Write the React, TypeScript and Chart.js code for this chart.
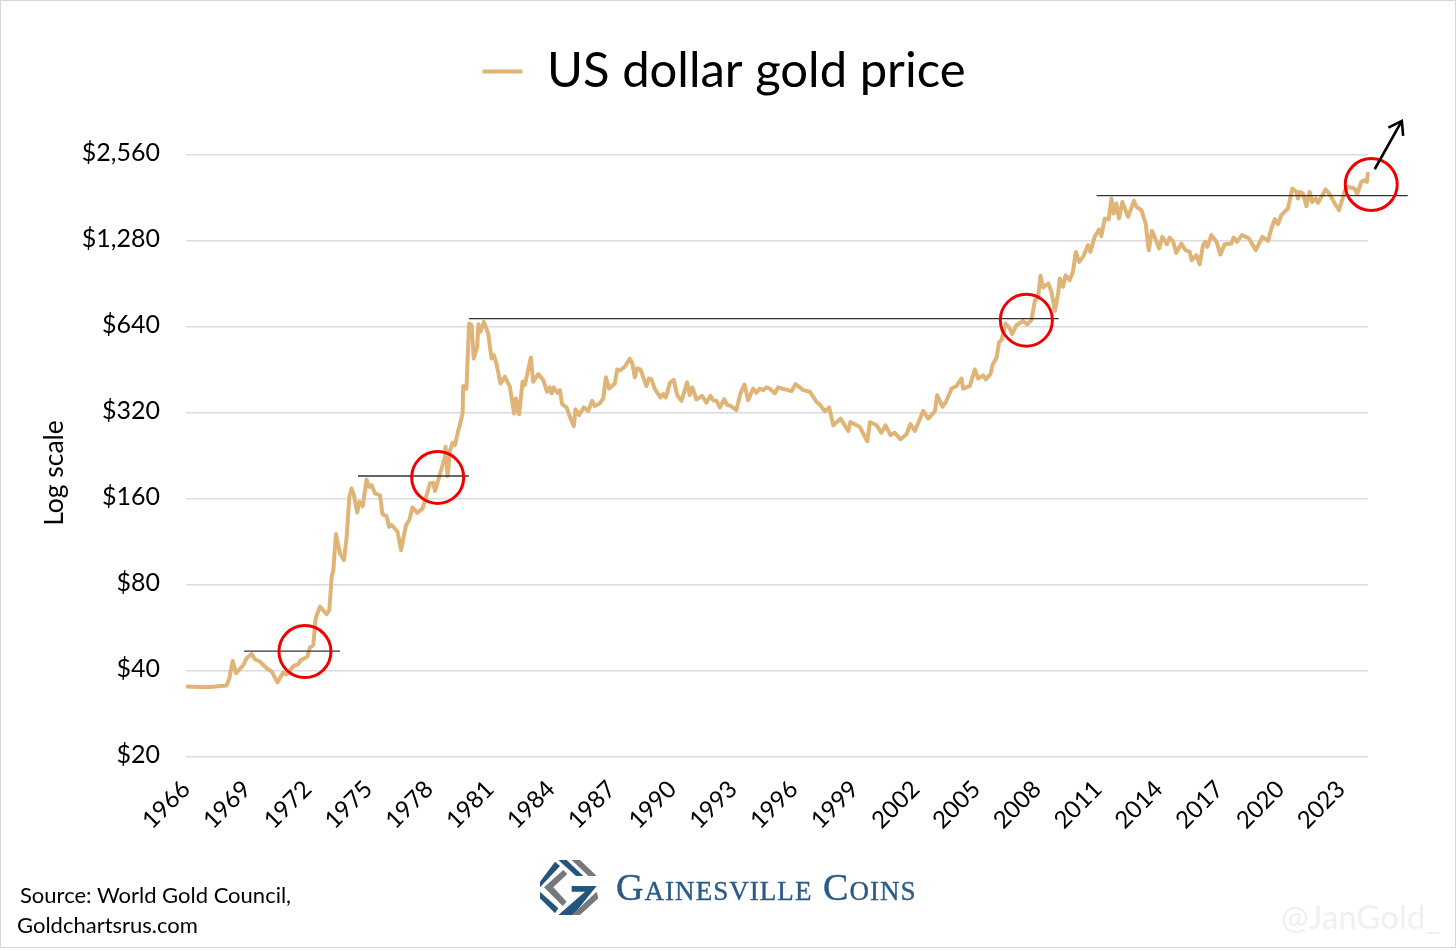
import { useEffect, useRef } from 'react'
import { Chart, registerables } from 'chart.js'

Chart.register(...registerables)

const seriesLabel = 'US dollar gold price'
const priceTicks = [20, 40, 80, 160, 320, 640, 1280, 2560]
const yearTicks = [1966, 1969, 1972, 1975, 1978, 1981, 1984, 1987, 1990, 1993, 1996, 1999, 2002, 2005, 2008, 2011, 2014, 2017, 2020, 2023]

// Decimal years
const goldYears = [
  1966.0, 1967.02, 1968.0, 1968.14, 1968.3, 1968.47, 1968.83, 1968.99, 1969.24, 1969.4, 1969.65, 1969.98,
  1970.23, 1970.51, 1970.8, 1970.97, 1971.3, 1971.54, 1971.66, 1971.99, 1972.12, 1972.28, 1972.4, 1972.61, 1972.94,
  1973.07, 1973.19, 1973.27, 1973.4, 1973.6, 1973.8, 1973.93, 1974.06, 1974.17, 1974.29, 1974.45, 1974.55, 1974.72, 1974.91,
  1975.03, 1975.16, 1975.33, 1975.57, 1975.7, 1975.9, 1976.02, 1976.15, 1976.44, 1976.61, 1976.86,
  1977.02, 1977.17, 1977.41, 1977.68, 1978.04, 1978.2, 1978.29, 1978.45, 1978.78, 1978.81, 1978.91,
  1979.03, 1979.16, 1979.27, 1979.44, 1979.51, 1979.65, 1979.68, 1979.84, 1979.97,
  1980.09, 1980.2, 1980.37, 1980.43, 1980.53, 1980.7, 1980.91, 1981.08, 1981.19, 1981.32, 1981.52, 1981.73, 1981.98,
  1982.19, 1982.28, 1982.44, 1982.61, 1982.72, 1983.02, 1983.13, 1983.38, 1983.63, 1983.82, 1983.95,
  1984.04, 1984.15, 1984.32, 1984.45, 1984.56, 1984.78, 1984.94, 1985.14, 1985.22, 1985.4, 1985.63, 1985.85,
  1986.04, 1986.17, 1986.42, 1986.59, 1986.72, 1986.88, 1987.16, 1987.28, 1987.44, 1987.65, 1987.9,
  1988.03, 1988.15, 1988.26, 1988.43, 1988.72, 1988.84, 1988.97, 1989.13, 1989.41, 1989.55, 1989.68, 1989.88,
  1990.07, 1990.24, 1990.45, 1990.73, 1990.86, 1990.99, 1991.19, 1991.47, 1991.68, 1991.88,
  1992.01, 1992.18, 1992.34, 1992.56, 1992.7, 1992.87, 1993.16, 1993.36, 1993.56, 1993.74, 1993.99,
  1994.15, 1994.32, 1994.48, 1994.64, 1994.81, 1995.06, 1995.22, 1995.88, 1996.08, 1996.46, 1996.79,
  1997.12, 1997.28, 1997.53, 1997.74, 1997.94, 1998.3, 1998.68, 1998.79, 1999.25, 1999.62, 1999.75,
  2000.08, 2000.32, 2000.52, 2000.77, 2000.98, 2001.26, 2001.56, 2001.75, 2001.97, 2002.38, 2002.63, 2002.96,
  2003.07, 2003.33, 2003.5, 2003.78, 2004.02, 2004.27, 2004.35, 2004.68, 2004.93, 2005.09, 2005.34, 2005.47, 2005.7, 2005.8,
  2006.0, 2006.13, 2006.25, 2006.44, 2006.65, 2006.77, 2006.98, 2007.31, 2007.51, 2007.72, 2007.89,
  2008.05, 2008.17, 2008.3, 2008.55, 2008.71, 2008.88, 2009.04, 2009.12, 2009.28, 2009.41, 2009.61, 2009.77, 2009.91,
  2010.07, 2010.27, 2010.51, 2010.63, 2010.84, 2011.06, 2011.17, 2011.34, 2011.53, 2011.67, 2011.78, 2011.91,
  2012.04, 2012.21, 2012.49, 2012.78, 2012.9, 2013.15, 2013.36, 2013.51, 2013.67, 2013.8,
  2014.02, 2014.18, 2014.41, 2014.54, 2014.71, 2014.87, 2015.12, 2015.32, 2015.53, 2015.63, 2015.86,
  2016.02, 2016.19, 2016.3, 2016.4, 2016.6, 2016.85, 2017.05, 2017.26, 2017.59, 2017.7, 2017.87,
  2018.11, 2018.46, 2018.79, 2019.12, 2019.4, 2019.56, 2019.73, 2019.89, 2020.05, 2020.38, 2020.6, 2020.79, 2020.88, 2020.96,
  2021.12, 2021.29, 2021.45, 2021.58, 2021.75, 2021.86, 2022.24, 2022.44, 2022.69, 2022.9,
  2023.1, 2023.18, 2023.34, 2023.67, 2023.8, 2024.0, 2024.17, 2024.28, 2024.33,
]

const goldPrices = [
  35.3, 35.1, 35.6, 37.7, 43.4, 39.3, 42.0, 44.3, 45.9, 44.0, 43.1, 40.9,
  39.8, 36.5, 39.5, 38.9, 41.6, 42.3, 43.6, 44.9, 48.4, 49.3, 61.2, 67.2, 63.2,
  65.4, 85.5, 90.3, 120.7, 103.3, 97.8, 118, 163, 174.4, 165, 143.7, 156.5, 151, 187.5,
  176.6, 179, 167.5, 165, 141.5, 139.5, 128, 129.8, 122.9, 106, 129.8,
  135, 149.6, 143.2, 148.5, 181.6, 182.4, 170.7, 186.6, 225, 243.9, 192.6,
  237.5, 251.9, 247, 279, 290, 320, 398, 390, 659,
  650, 497, 546, 655, 616, 668, 608, 497, 511, 477, 406, 429, 396,
  319, 360, 317, 412, 401, 501, 412, 438, 418, 380, 394,
  375, 394, 377, 385, 344, 335, 311, 288, 330, 315, 335, 326,
  353, 339, 346, 360, 427, 390, 406, 455, 452, 465, 496,
  477, 427, 459, 455, 398, 423, 420, 390, 363, 373, 363, 409,
  418, 370, 353, 410, 370, 394, 357, 368, 348, 368,
  355, 353, 335, 358, 342, 339, 328, 375, 403, 355, 390,
  377, 390, 385, 394, 390, 375, 394, 382, 404, 385, 380,
  350, 342, 325, 335, 290, 306, 277, 298, 286, 255, 298,
  290, 273, 290, 268, 273, 259, 270, 293, 277, 326, 306, 325,
  370, 337, 350, 390, 398, 423, 390, 398, 455, 423, 434, 420, 438, 471,
  501, 568, 577, 659, 633, 605, 650, 673, 654, 677, 791,
  817, 968, 881, 910, 851, 730, 840, 948, 886, 973, 935, 1000, 1174,
  1083, 1128, 1239, 1174, 1325, 1407, 1332, 1537, 1525, 1806, 1600, 1734,
  1537, 1756, 1557, 1772, 1687, 1643, 1476, 1190, 1391, 1325,
  1207, 1325, 1249, 1318, 1275, 1165, 1256, 1190, 1174, 1098, 1143,
  1061, 1239, 1275, 1223, 1344, 1275, 1149, 1249, 1256, 1318, 1275,
  1344, 1308, 1190, 1325, 1283, 1418, 1529, 1468, 1578, 1666, 1958, 1905, 1806, 1905,
  1880, 1697, 1905, 1756, 1806, 1742, 1942, 1870, 1734, 1643,
  1829, 1920, 1983, 1958, 1870, 2065, 2093, 2065, 2237,
]

// Prior highs: from year, to year, price
const highStart = [1968.86, 1974.49, 1979.96, 2010.94]
const highEnd = [1973.6, 1979.96, 2009.07, 2026.29]
const highPrice = [47, 192.7, 685, 1847]

// Breakouts circled in red
const circleYears = [1971.87, 1978.42, 2007.47, 2024.49]
const circlePrices = [46.8, 190.6, 677, 2022]

const arrowFrom = [2024.66, 2286]
const arrowTo = [2026.0, 3374]

const FONT = 'Lato, sans-serif'

const annotations = {
  id: 'annotations',
  afterDatasetsDraw(chart: any) {
    const { ctx, scales } = chart
    const { x, y } = scales
    ctx.save()

    ctx.strokeStyle = '#333333'
    ctx.lineWidth = 1.3
    highPrice.forEach((p, i) => {
      ctx.beginPath()
      ctx.moveTo(x.getPixelForValue(highStart[i]), y.getPixelForValue(p))
      ctx.lineTo(x.getPixelForValue(highEnd[i]), y.getPixelForValue(p))
      ctx.stroke()
    })

    ctx.strokeStyle = '#f00000'
    ctx.lineWidth = 3
    circleYears.forEach((yr, i) => {
      ctx.beginPath()
      ctx.arc(x.getPixelForValue(yr), y.getPixelForValue(circlePrices[i]), 26, 0, Math.PI * 2)
      ctx.stroke()
    })

    const ax = x.getPixelForValue(arrowFrom[0])
    const ay = y.getPixelForValue(arrowFrom[1])
    const bx = x.getPixelForValue(arrowTo[0])
    const by = y.getPixelForValue(arrowTo[1])
    const angle = Math.atan2(by - ay, bx - ax)
    ctx.strokeStyle = '#000000'
    ctx.lineWidth = 2.6
    ctx.beginPath()
    ctx.moveTo(ax, ay)
    ctx.lineTo(bx, by)
    ctx.moveTo(bx - 15 * Math.cos(angle - 0.6), by - 15 * Math.sin(angle - 0.6))
    ctx.lineTo(bx, by)
    ctx.lineTo(bx - 15 * Math.cos(angle + 0.6), by - 15 * Math.sin(angle + 0.6))
    ctx.stroke()

    ctx.translate(54, 473)
    ctx.rotate(-Math.PI / 2)
    ctx.fillStyle = '#000000'
    ctx.font = `26.5px ${FONT}`
    ctx.textAlign = 'center'
    ctx.textBaseline = 'middle'
    ctx.fillText('Log scale', 0, 0)
    ctx.restore()
  },
}

export default function App() {
  const canvasRef = useRef<HTMLCanvasElement>(null)

  useEffect(() => {
    if (!canvasRef.current) return

    const chart = new Chart(canvasRef.current, {
      type: 'line',
      data: {
        datasets: [
          {
            label: seriesLabel,
            data: goldYears.map((yr, i) => ({ x: yr, y: goldPrices[i] })),
            borderColor: '#e0b476',
            backgroundColor: '#e0b476',
            borderWidth: 4,
            borderJoinStyle: 'round',
            pointRadius: 0,
            tension: 0,
            clip: false,
          },
        ],
      },
      options: {
        animation: false,
        responsive: false,
        layout: { padding: { left: 80, right: 88, top: -15, bottom: 0 } },
        plugins: {
          tooltip: { enabled: false },
          legend: {
            position: 'top',
            labels: {
              boxWidth: 40,
              boxHeight: 4,
              padding: 62,
              color: '#000000',
              font: { family: FONT, size: 49 },
              generateLabels: (c: any) =>
                Chart.defaults.plugins.legend.labels.generateLabels(c).map((l: any) => ({ ...l, lineWidth: 0 })),
            },
          },
          // empty box, only keeps the gap between legend and plot
          subtitle: {
            display: true,
            text: '',
            weight: 500,
            font: { size: 1 },
            padding: { top: 0, bottom: 48 },
          } as any,
        },
        scales: {
          x: {
            type: 'linear',
            min: 1966,
            max: 2024.33,
            grid: { display: false },
            border: { display: false },
            afterBuildTicks: (axis: any) => {
              axis.ticks = yearTicks.map((value) => ({ value }))
            },
            afterFit: (axis: any) => {
              axis.height = 194
            },
            ticks: {
              autoSkip: false,
              maxRotation: 45,
              minRotation: 45,
              padding: 10,
              color: '#000000',
              font: { family: FONT, size: 24 },
              callback: (val: any) => String(val),
            },
          },
          y: {
            type: 'logarithmic',
            min: 20,
            max: 2560,
            grid: { color: '#dbdbdb', lineWidth: 1.5, drawTicks: false },
            border: { display: false },
            afterBuildTicks: (axis: any) => {
              axis.ticks = priceTicks.map((value) => ({ value }))
            },
            afterFit: (axis: any) => {
              axis.width = 106
            },
            ticks: {
              autoSkip: false,
              padding: 26,
              labelOffset: -2,
              color: '#000000',
              font: { family: FONT, size: 25 },
              callback: (val: any) => `$${Number(val).toLocaleString('en-US')}`,
            },
          },
        },
      },
      plugins: [annotations],
    })

    return () => {
      chart.destroy()
    }
  }, [])

  return (
    <div style={{ position: 'absolute', left: 0, top: 0, width: 1456, height: 951, background: '#fff', overflow: 'hidden' }}>
      <div style={{ position: 'absolute', left: 0, top: 0, width: 1456, height: 948, boxSizing: 'border-box', border: '1.5px solid #d6d6d6' }} />
      <canvas ref={canvasRef} width={1456} height={951} style={{ position: 'absolute', left: 0, top: 0 }} />
      <span style={{ position: 'absolute', left: 20, top: 881, font: `22px ${FONT}`, color: '#000' }}>Source: World Gold Council,</span>
      <span style={{ position: 'absolute', left: 17, top: 911, font: `22px ${FONT}`, color: '#000' }}>Goldchartsrus.com</span>
      <svg style={{ position: 'absolute', left: 530, top: 850 }} width={100} height={75} viewBox="0 0 300 225">
        <polygon fill="#23557f" points="30,95 75,35 90,48 30,112" />
        <polygon fill="#23557f" points="85,30 110,30 160,78 138,78" />
        <polygon fill="#77787b" points="125,30 150,30 200,78 175,78" />
        <polygon fill="#77787b" points="100,60 112,72 70,112 110,155 98,168 42,112" />
        <polygon fill="#23557f" points="30,125 85,175 75,190 30,145" />
        <polygon fill="#23557f" points="125,108 200,108 130,195 85,195 165,125 125,125" />
        <polygon fill="#77787b" points="200,125 205,145 150,195 125,195" />
      </svg>
      <span style={{ position: 'absolute', left: 616, top: 865, font: `38px "Liberation Serif", serif`, fontVariant: 'small-caps', letterSpacing: 1.05, color: '#2a5a88', WebkitTextStroke: '0.4px #2a5a88', whiteSpace: 'nowrap' }}>Gainesville Coins</span>
      <span style={{ position: 'absolute', left: 1281, top: 896, font: `33px ${FONT}`, color: '#f0f0f0' }}>@JanGold_</span>
    </div>
  )
}
